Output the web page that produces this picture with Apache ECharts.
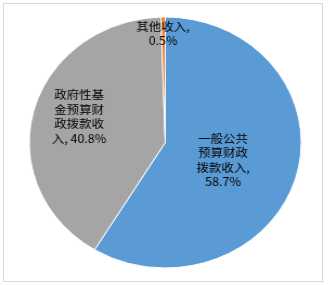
<!DOCTYPE html>
<html>
<head>
<meta charset="utf-8">
<script src="https://cdn.jsdelivr.net/npm/echarts@6/dist/echarts.min.js"></script>
<style>
  html, body { margin: 0; padding: 0; background: #fff; }
  #frame { position: absolute; left: 3px; top: 3px; width: 318px; height: 277px; border: 1px solid #d9d9d9; box-sizing: content-box; }
  /* the pie is drawn slightly wider than tall */
  #chart { position: absolute; left: 0; top: 0; width: 303px; height: 285px; transform: scaleX(1.0836); transform-origin: 0 0; }
</style>
</head>
<body>
<div id="frame"></div>
<div id="chart"></div>
<script>
// 收入构成（%）
const categories = ['一般公共预算财政拨款收入', '政府性基金预算财政拨款收入', '其他收入'];
const shares = [58.7, 40.8, 0.5];
const colors = ['#5B9BD5', '#A5A5A5', '#ED7D31'];
// label nudges relative to the default inside position
const labelOffsets = [[-10, 0], [-16, -9], [-1, -43]];

// break a name into 4-character lines, then append the value
function wrapLabel(name, value) {
  const lines = [];
  for (let i = 0; i < name.length; i += 4) lines.push(name.slice(i, i + 4));
  const last = lines.length - 1;
  if (lines[last].length === 4) {
    lines[last] += ',';
    lines.push(value.toFixed(1) + '%');
  } else {
    lines[last] += ', ' + value.toFixed(1) + '%';
  }
  return lines.join('\n');
}

const chart = echarts.init(document.getElementById('chart'), null, { renderer: 'canvas' });
chart.setOption({
  animation: false,
  series: [{
    type: 'pie',
    center: [152.5, 142.5],
    radius: [0, 125.5],
    startAngle: 90,
    clockwise: true,
    avoidLabelOverlap: false,
    itemStyle: { borderColor: '#ffffff', borderWidth: 1 },
    label: {
      show: true,
      position: 'inside',
      color: '#000',
      fontFamily: '"Noto Sans CJK SC", sans-serif',
      fontSize: 11.5,
      lineHeight: 14.5,
      align: 'center',
      formatter: p => wrapLabel(p.name, p.value)
    },
    labelLine: { show: false },
    emphasis: { disabled: true },
    data: categories.map((name, i) => ({
      name,
      value: shares[i],
      itemStyle: { color: colors[i] },
      label: { offset: labelOffsets[i] }
    }))
  }]
});
</script>
</body>
</html>
